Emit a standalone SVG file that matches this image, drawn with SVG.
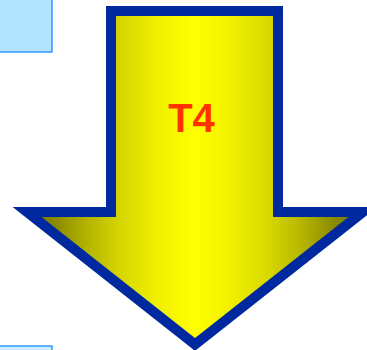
<svg xmlns="http://www.w3.org/2000/svg" width="367" height="350" viewBox="0 0 367 350">
<defs>
<linearGradient id="yg" gradientUnits="userSpaceOnUse" x1="27" y1="0" x2="363" y2="0">
<stop offset="0" stop-color="#6e6e00"/>
<stop offset="0.045" stop-color="#7a7a00"/>
<stop offset="0.19" stop-color="#b8b800"/>
<stop offset="0.29" stop-color="#dada00"/>
<stop offset="0.4" stop-color="#f2f200"/>
<stop offset="0.5" stop-color="#ffff00"/>
<stop offset="0.6" stop-color="#f2f200"/>
<stop offset="0.71" stop-color="#dada00"/>
<stop offset="0.81" stop-color="#b8b800"/>
<stop offset="0.955" stop-color="#7a7a00"/>
<stop offset="1" stop-color="#6e6e00"/>
</linearGradient>
</defs>
<style>
.box{fill:#b3e5ff;stroke:#3399ff;stroke-width:1.5}
.arrow{fill:url(#yg);stroke:#0029a0;stroke-width:10;stroke-linejoin:miter;stroke-miterlimit:10}
.lbl{font-family:"Liberation Sans",Arial,sans-serif;font-weight:bold;font-size:40px;fill:#ff3300}
</style>
<g id="box-top"><rect class="box" x="-5" y="-5" width="57" height="57"/></g>
<g id="box-bottom"><rect class="box" x="-5" y="346" width="57" height="20" style="fill:#cdeeff"/></g>
<g id="arrow-t4">
<polygon class="arrow" points="111,11 278,11 278,212 363,212 195,344.5 27,212 111,212"/>
<text class="lbl" x="191.5" y="132" text-anchor="middle">T4</text>
</g>
<g id="connectors"/>
</svg>
